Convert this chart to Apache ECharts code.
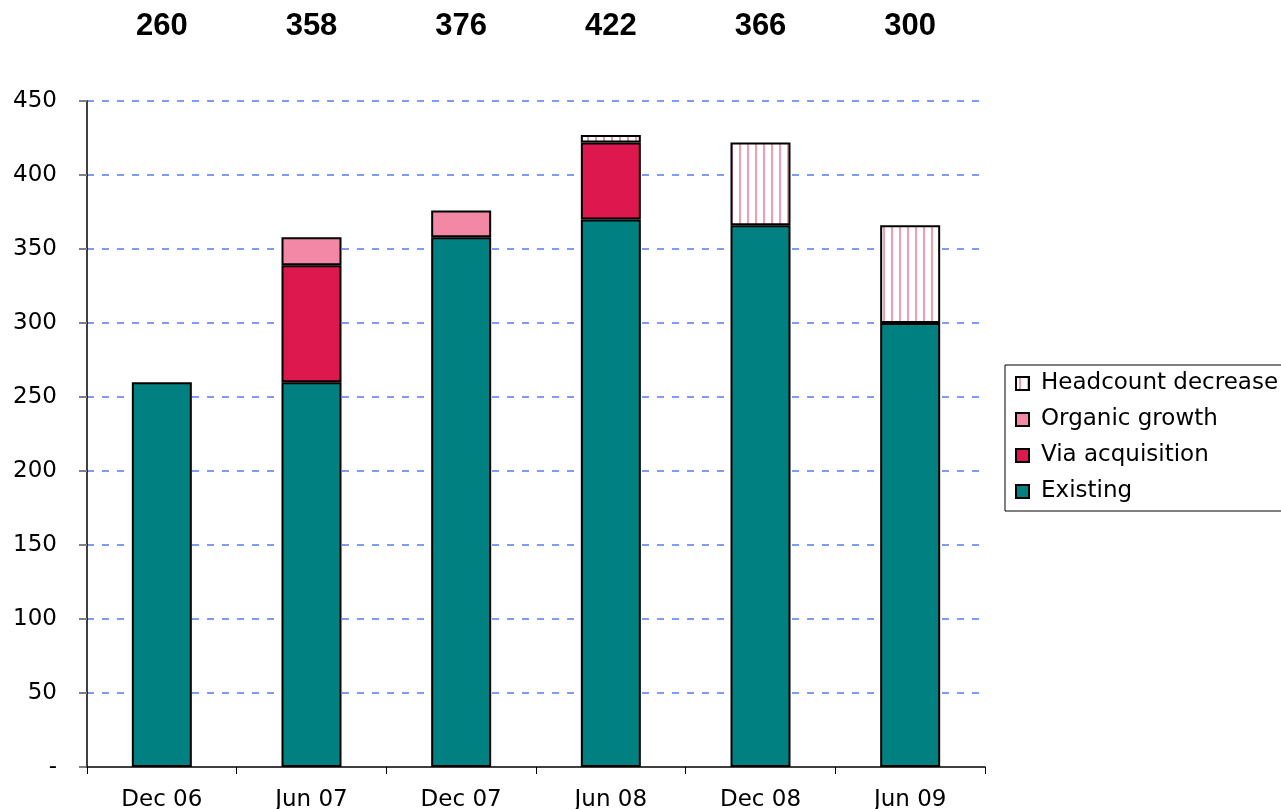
<!DOCTYPE html>
<html>
<head>
<meta charset="utf-8">
<script src="https://cdn.jsdelivr.net/npm/echarts@6/dist/echarts.min.js"></script>
<style>
  html, body { margin: 0; padding: 0; background: #fff; }
  #chart { width: 1281px; height: 809px; }
</style>
</head>
<body>
<div id="chart"></div>
<script>
const periods = ['Dec 06', 'Jun 07', 'Dec 07', 'Jun 08', 'Dec 08', 'Jun 09']
const existing = [260, 260, 358, 370, 366, 300]
const viaAcquisition = [null, 79, null, 52, null, null]
const organicGrowth = [null, 19, 18, null, null, null]
const headcountDecrease = [null, null, null, 5, 56, 66]
const totals = [260, 358, 376, 422, 366, 300]

// vertical pink stripes on white
function stripes() {
  const c = document.createElement('canvas')
  c.width = 8
  c.height = 8
  const ctx = c.getContext('2d')
  ctx.fillStyle = '#fff'
  ctx.fillRect(0, 0, 8, 8)
  ctx.fillStyle = '#f49bb2'
  ctx.fillRect(3, 0, 2, 8)
  return c
}

const font = 'DejaVu Sans'
const border = { borderColor: '#000', borderWidth: 2 }

function bar(name, data, color) {
  return {
    name,
    type: 'bar',
    stack: 'total',
    barWidth: 60,
    data,
    itemStyle: Object.assign({ color }, border),
  }
}

const myChart = echarts.init(document.getElementById('chart'))
myChart.setOption({
  animation: false,
  // plot height 666 = 9 x 74 so every grid line lands on a whole pixel
  grid: { left: 87, right: 296, top: 101, bottom: 42, outerBoundsMode: 'none' },
  legend: {
    orient: 'vertical',
    left: 1005,
    top: 365,
    data: ['Headcount decrease', 'Organic growth', 'Via acquisition', 'Existing'],
    icon: 'rect',
    itemWidth: 13,
    itemHeight: 13,
    itemGap: 13,
    padding: [7, 80, 8, 10],
    borderColor: '#000',
    borderWidth: 1,
    textStyle: { fontFamily: font, fontSize: 23, color: '#000', padding: [0, 0, 0, 7] },
  },
  xAxis: [
    {
      type: 'category',
      data: periods,
      z: 10,
      axisLine: { lineStyle: { color: '#000', width: 1.5 } },
      axisTick: { show: true, length: 7, lineStyle: { color: '#000' } },
      axisLabel: { fontFamily: font, fontSize: 23, color: '#000', margin: 22 },
    },
    {
      type: 'category',
      position: 'top',
      data: totals,
      axisLine: { show: false },
      axisTick: { show: false },
      axisLabel: {
        fontFamily: 'Liberation Sans',
        fontWeight: 'bold',
        fontSize: 31,
        color: '#000',
        margin: 59,
      },
    },
  ],
  yAxis: {
    type: 'value',
    min: 0,
    max: 450,
    interval: 50,
    axisLine: { show: true, lineStyle: { color: '#000', width: 1.5 } },
    axisTick: { show: true, length: 8, lineStyle: { color: '#808080', width: 2 } },
    axisLabel: {
      fontFamily: font,
      fontSize: 23,
      color: '#000',
      margin: 30,
      formatter: (v) => (v === 0 ? '-' : v),
    },
    splitLine: {
      show: true,
      showMinLine: false,
      lineStyle: { color: '#7f9bf4', type: [7, 8], width: 2 },
    },
  },
  series: [
    bar('Existing', existing, '#008080'),
    bar('Via acquisition', viaAcquisition, '#dc184e'),
    bar('Organic growth', organicGrowth, '#f288a5'),
    bar('Headcount decrease', headcountDecrease, { image: stripes(), repeat: 'repeat' }),
  ],
})
</script>
</body>
</html>
